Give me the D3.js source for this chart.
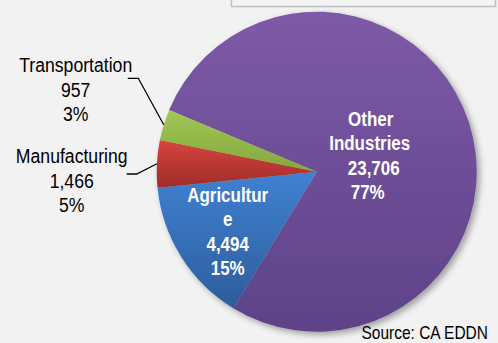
<!DOCTYPE html>
<html>
<head>
<meta charset="utf-8">
<script src="https://cdn.jsdelivr.net/npm/d3@7"></script>
<style>
  html, body { margin: 0; padding: 0; background: #f2f2f2; }
  svg { display: block; font-family: "Liberation Sans", Arial, sans-serif; }
</style>
</head>
<body>
<div id="chart"></div>
<script>
// data
const categories = ["Other Industries", "Agriculture", "Manufacturing", "Transportation"];
const values = [23706, 4494, 1466, 957];
const labelNames = [["Other", "Industries"], ["Agricultur", "e"], ["Manufacturing"], ["Transportation"]];
const source = "Source: CA EDDN";

const width = 498, height = 343;
const cx = 316.7, cy = 171.7, radius = 160;

const svg = d3.select("#chart").append("svg")
    .attr("width", width)
    .attr("height", height);

svg.append("rect").attr("width", width).attr("height", height).attr("fill", "#f2f2f2");

// box peeking in at the top (cut off)
svg.append("rect")
    .attr("x", 231.5).attr("y", -10)
    .attr("width", 264).attr("height", 16.5)
    .attr("fill", "#f4f4f4")
    .attr("stroke", "#bfbfbf")
    .attr("stroke-width", 1.5);

const defs = svg.append("defs");

// colour ramps per slice, lighter at the top like the excel style
const grads = [
    ["#7d5aa7", "#5e4288"],
    ["#4081d1", "#2c5d9c"],
    ["#d6463f", "#a02b29"],
    ["#a2c857", "#84a73c"]
];
grads.forEach(function(g, i) {
    const lg = defs.append("linearGradient")
        .attr("id", "grad" + i)
        .attr("x1", 0).attr("y1", 0)
        .attr("x2", 0).attr("y2", 1);
    lg.append("stop").attr("offset", "0%").attr("stop-color", g[0]);
    lg.append("stop").attr("offset", "100%").attr("stop-color", g[1]);
});

const shadow = defs.append("filter").attr("id", "shadow")
    .attr("x", "-20%").attr("y", "-20%").attr("width", "140%").attr("height", "140%");
shadow.append("feDropShadow")
    .attr("dx", 3).attr("dy", 3).attr("stdDeviation", 3)
    .attr("flood-color", "#000").attr("flood-opacity", 0.35);

const total = d3.sum(values);
const startAngle = -67.3 * Math.PI / 180;

const pie = d3.pie().sort(null).value(d => d)
    .startAngle(startAngle).endAngle(startAngle + 2 * Math.PI);
const arcs = pie(values);

const arc = d3.arc().innerRadius(0).outerRadius(radius);

const g = svg.append("g").attr("transform", "translate(" + cx + "," + cy + ")");

const slices = g.append("g").attr("filter", "url(#shadow)");
slices.selectAll("path")
    .data(arcs)
    .enter()
    .append("path")
    .attr("d", arc)
    .attr("fill", (d, i) => "url(#grad" + i + ")");

const fmt = d3.format(",");
function labelLines(i) {
    return labelNames[i].concat([fmt(values[i]), Math.round(values[i] / total * 100) + "%"]);
}

// no narrow font installed, so squeeze the text horizontally
function narrowText(parent, x, y, sx, size) {
    return parent.append("g")
        .attr("transform", "translate(" + x + "," + y + ") scale(" + sx + ",1)")
        .append("text")
        .attr("font-size", size);
}

// label placement (relative to pie centre)
const labelPos = [
    {x: 54, y: -46, inside: true, dx: [0, -1, 3, -3]},
    {x: -89, y: 30, inside: true, dx: [0, 0, 0, 0]},
    {x: -245, y: -8.5, inside: false, dx: [0, 0, 0, 0]},
    {x: -241, y: -99.5, inside: false, dx: [0, 0, 0, 0]}
];
const lineH = 24.6;

labelPos.forEach(function(p, i) {
    const lines = labelLines(i);
    const sx = p.inside ? 0.87 : 0.84;
    const t = narrowText(g, p.x, p.y, sx, p.inside ? 19.5 : 21)
        .attr("text-anchor", "middle")
        .attr("font-weight", p.inside ? "bold" : "normal")
        .attr("fill", p.inside ? "#ffffff" : "#000000");
    lines.forEach(function(s, k) {
        t.append("tspan")
            .attr("x", (p.dx[k] || 0) / sx)
            .attr("y", k * lineH)
            .text(s);
    });
});

// leader lines for the two small outside slices
const leaderElbows = {2: [-190, 2.3, -180], 3: [-189, -93.4, -178.4]};
Object.keys(leaderElbows).forEach(function(k) {
    const d = arcs[k];
    const mid = (d.startAngle + d.endAngle) / 2;
    const ex = radius * Math.sin(mid), ey = -radius * Math.cos(mid);
    const e = leaderElbows[k];
    g.append("path")
        .attr("d", "M" + e[0] + "," + e[1] + "H" + e[2] + "L" + ex + "," + ey)
        .attr("fill", "none")
        .attr("stroke", "#000")
        .attr("stroke-width", 1.3);
});

narrowText(svg, 488, 339, 0.886, 17.5)
    .attr("text-anchor", "end")
    .attr("fill", "#000")
    .text(source);
</script>
</body>
</html>
